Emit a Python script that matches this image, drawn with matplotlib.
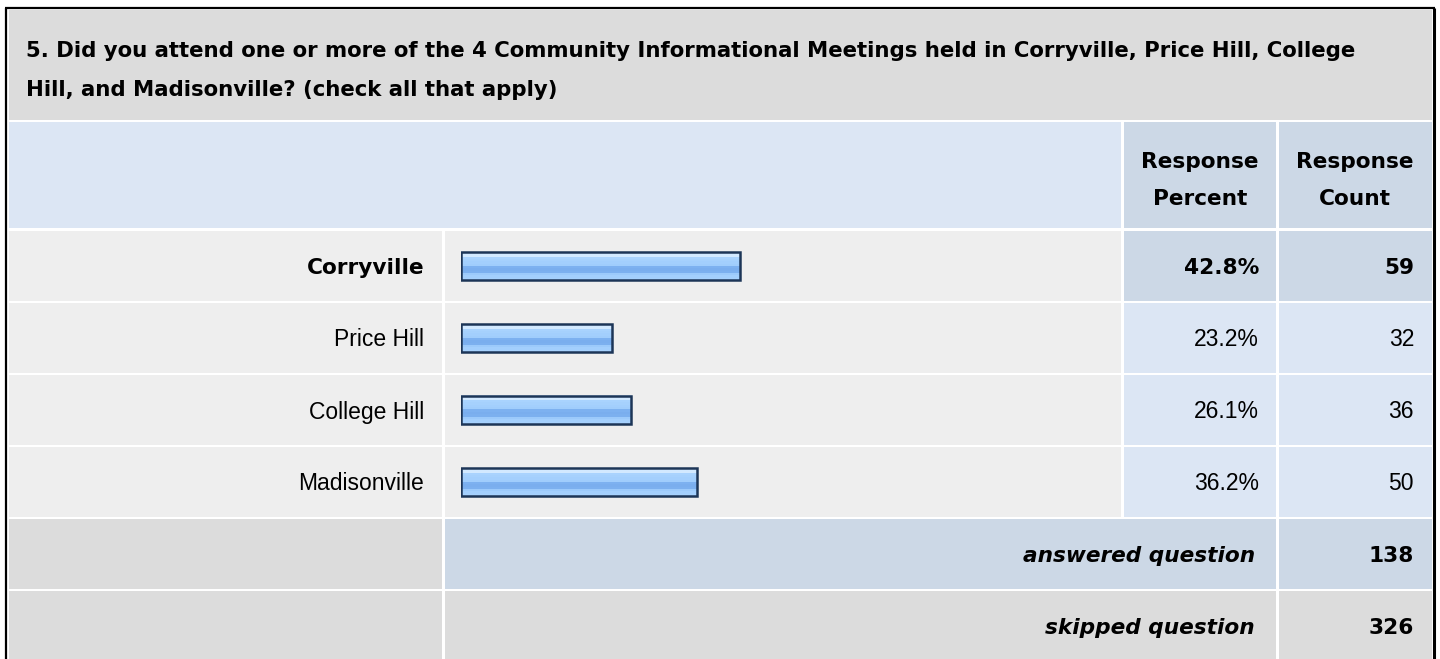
import numpy as np
import matplotlib
matplotlib.use("Agg")
from matplotlib import pyplot as plt
from matplotlib.patches import Rectangle
from matplotlib.colors import to_rgb

plt.rcParams["font.family"] = ["Liberation Sans", "DejaVu Sans"]

title_lines = [
    "5. Did you attend one or more of the 4 Community Informational Meetings held in Corryville, Price Hill, College",
    "Hill, and Madisonville? (check all that apply)",
]
categories = ["Corryville", "Price Hill", "College Hill", "Madisonville"]
percents = [42.8, 23.2, 26.1, 36.2]
counts = [59, 32, 36, 50]
answered = 138
skipped = 326

W, H = 1440, 659
fig = plt.figure(figsize=(W / 100, H / 100), dpi=100)
ax = fig.add_axes([0, 0, 1, 1])
ax.set_xlim(0, W)
ax.set_ylim(H, 0)
ax.axis("off")

GREY = "#dcdcdc"
ROWBG = "#eeeeee"
HEAD = "#dce6f4"
HILITE = "#ccd8e6"
FS = 16.5
# bold text in the screenshot is rendered wider than Arial bold
BOLD = dict(family=["DejaVu Sans"], fontweight="bold", fontsize=15.6)

# column edges (pixels)
c_lab = (9, 442)
c_bar = (444.5, 1121)
c_pct = (1123.5, 1276)
c_cnt = (1278.5, 1432)
ROW0, PITCH = 230, 72


def cell(x0x1, y0, y1, color):
    ax.add_patch(Rectangle((x0x1[0], y0), x0x1[1] - x0x1[0], y1 - y0,
                           facecolor=color, edgecolor="none"))


# outer frame
ax.plot([5.5, 5.5], [8, H], color="black", lw=1.6, solid_capstyle="butt")
ax.plot([5, 1435], [8, 8], color="black", lw=1.6, solid_capstyle="butt")
ax.plot([1434, 1434], [8, H], color="black", lw=2.2, solid_capstyle="butt")

# title block
cell((9, 1432), 10, 119.5, GREY)
title_style = dict(BOLD, fontsize=15.35)
ax.text(26, 57, title_lines[0], va="baseline", **title_style)
ax.text(26, 95.5, title_lines[1], va="baseline", **title_style)

# header row
cell((9, 1121), 122, 228, HEAD)
cell(c_pct, 122, 228, HILITE)
cell(c_cnt, 122, 228, HILITE)
for cx, (l1, l2) in [((c_pct[0] + c_pct[1]) / 2, ("Response", "Percent")),
                     ((c_cnt[0] + c_cnt[1]) / 2, ("Response", "Count"))]:
    ax.text(cx, 168, l1, ha="center", va="baseline", **BOLD)
    ax.text(cx, 205, l2, ha="center", va="baseline", **BOLD)

# data rows
best = int(np.argmax(counts))
for i, (cat, p, n) in enumerate(zip(categories, percents, counts)):
    y0 = ROW0 + i * PITCH + 1
    y1 = ROW0 + (i + 1) * PITCH - 1
    yb = (y0 + y1) / 2 + 8.5
    cell(c_lab, y0, y1, ROWBG)
    cell(c_bar, y0, y1, ROWBG)
    bg = HILITE if i == best else HEAD
    cell(c_pct, y0, y1, bg)
    cell(c_cnt, y0, y1, bg)
    style = BOLD if i == best else dict(fontsize=FS)
    ax.text(424, yb, cat, ha="right", va="baseline", **style)
    ax.text(1259, yb, f"{p:.1f}%", ha="right", va="baseline", **style)
    ax.text(1414, yb, str(n), ha="right", va="baseline", **style)

# summary rows
for k, (label, val, bg) in enumerate([("answered question", answered, HILITE),
                                      ("skipped question", skipped, GREY)]):
    i = len(categories) + k
    y0 = ROW0 + i * PITCH + 1
    y1 = ROW0 + (i + 1) * PITCH - 1 if k == 0 else H
    yb = ROW0 + i * PITCH + PITCH / 2 + 8.5
    cell(c_lab, y0, y1, GREY)
    cell((c_bar[0], c_pct[1]), y0, y1, bg)
    cell(c_cnt, y0, y1, bg)
    ax.text(1255, yb, label, fontstyle="italic", ha="right", va="baseline", **BOLD)
    ax.text(1414, yb, str(val), ha="right", va="baseline", **BOLD)

# bar axes: 0..100 % across the bar area, one row per category
bx0, bx1 = 461, 1113
bax = fig.add_axes([bx0 / W, 1 - (ROW0 + 4 * PITCH) / H, (bx1 - bx0) / W, 4 * PITCH / H])
bax.set_xlim(0, 100)
bax.set_ylim(len(categories) - 0.5, -0.5)
bax.axis("off")
bax.patch.set_alpha(0)

stops = ["#d2e9ff", "#d2e9ff", "#a9d3fe", "#a6d1fd", "#a3cffd", "#a0cdfc",
         "#7db1f0", "#7aaeee", "#7cb0ef", "#9ccafb", "#a3cffd", "#a6d1fd"]
grad = np.array([to_rgb(c) for c in stops])[:, None, :]
bh = 28 / PITCH
ypos = np.arange(len(categories))
bars = bax.barh(ypos, percents, height=bh, facecolor="none",
                edgecolor="#1c3557", linewidth=1.8, zorder=3)
for b in bars:
    x, y, w, h = b.get_x(), b.get_y(), b.get_width(), b.get_height()
    bax.imshow(grad, extent=(x, x + w, y + h, y), aspect="auto",
               interpolation="nearest", zorder=2)
bax.set_xlim(0, 100)
bax.set_ylim(len(categories) - 0.5, -0.5)

fig.savefig("out.png", dpi=100)
